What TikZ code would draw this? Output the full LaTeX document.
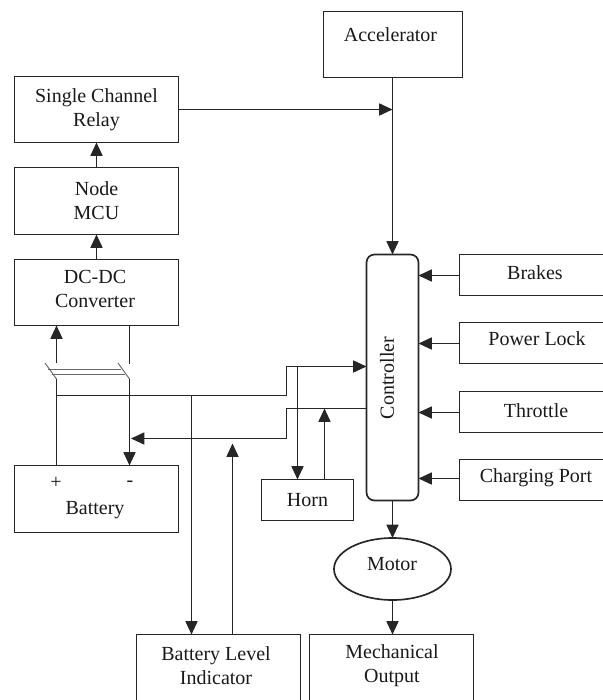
\documentclass[tikz,border=0pt]{standalone}
\usepackage{fontspec}
\setmainfont{Liberation Serif}
\usetikzlibrary{arrows.meta,shapes.geometric}
\tikzset{
  x=0.75pt,y=-0.75pt,
  every node/.style={font=\fontsize{15pt}{18pt}\selectfont,align=center,text=black!90},
  blockbox/.style={draw=black!85,line width=1.25pt,inner sep=0pt,outer sep=0pt,anchor=north west},
  wire/.style={draw=black!85,line width=1.25pt},
  arr/.style={wire,-{Triangle[length=10pt,width=9pt]}},
  sw/.style={draw=black!60,line width=0.7pt}
}
\begin{document}
\begin{tikzpicture}
\useasboundingbox (0,0) rectangle (603,700);
\clip (0,0) rectangle (603,700);
\node[blockbox,minimum width=104.25pt,minimum height=49.5pt] (acc) at (323.5,11.5) {};
\node (acct) at (390.5,35) {Accelerator};
\node[blockbox,minimum width=123pt,minimum height=49.5pt] (relay) at (14.5,76.5) {Single Channel\\Relay};
\node[blockbox,minimum width=123pt,minimum height=50.25pt] (mcu) at (14.5,167.5) {Node\\MCU};
\node[blockbox,minimum width=123pt,minimum height=49.5pt] (dc) at (14.5,259.5) {};
\node (dct) at (95,289) {DC-DC\\Converter};
\node[blockbox,minimum width=123pt,minimum height=50.25pt] (bat) at (14.5,465.5) {};
\node (plus) at (56,483) {+};
\node (minus) at (130,484) {-};
\node (batt) at (95,510) {Battery};
\node[blockbox,minimum width=69pt,minimum height=30.75pt] (horn) at (261.5,479.5) {Horn};
\node[blockbox,minimum width=39pt,minimum height=184.5pt,rounded corners=6pt] (ctrl) at (366.5,254.5) {};
\node[rotate=90] (ctrlt) at (387,378) {Controller};
\node[blockbox,minimum width=120pt,minimum height=30.75pt] (brakes) at (459.5,254.5) {};
\node (brakest) at (535,273) {Brakes};
\node[blockbox,minimum width=120pt,minimum height=30.75pt] (lock) at (459.5,322.5) {};
\node (lockt) at (537,339) {Power Lock};
\node[blockbox,minimum width=120pt,minimum height=30.75pt] (thr) at (459.5,391.5) {};
\node (thrt) at (536,411) {Throttle};
\node[blockbox,minimum width=120pt,minimum height=30.75pt] (chg) at (459.5,459.5) {};
\node (chgt) at (536,478) {Charging Port};
\node[draw=black!85,line width=1.25pt,inner sep=0pt,outer sep=0pt,ellipse,minimum width=87.75pt,minimum height=46.5pt] (motor) at (392.5,569) {};
\node (motort) at (392,564) {Motor};
\node[blockbox,minimum width=123pt,minimum height=60pt] (batl) at (136.5,634.5) {};
\node (batlt) at (216,666) {Battery Level\\Indicator};
\node[blockbox,minimum width=123pt,minimum height=60pt] (mech) at (309.5,634.5) {};
\node (mecht) at (392,666) {Mechanical\\Output};
% connectors
\coordinate (a1) at (392.5,77.5);
\coordinate (a3) at (392.5,109.5);
\draw[arr] (a1) -- (ctrl.north);
\draw[arr] (relay.east) -- (a3);
\draw[arr] (mcu.north) -- (relay.south);
\draw[arr] (dc.north) -- (mcu.south);
\coordinate (b1) at (459.5,275.5);
\coordinate (b2) at (459.5,343.5);
\coordinate (b3) at (459.5,412.5);
\coordinate (b4) at (459.5,478.5);
\draw[arr] (b1) -- (ctrl.east |- b1);
\draw[arr] (b2) -- (ctrl.east |- b2);
\draw[arr] (b3) -- (ctrl.east |- b3);
\draw[arr] (b4) -- (ctrl.east |- b4);
\draw[arr] (ctrl.south) -- (motor.north);
\draw[arr] (motor.south) -- (392.5,634.5);
% switch
\coordinate (sL) at (56.5,379);
\coordinate (sR) at (129.5,379);
\coordinate (pL) at (56.5,363);
\coordinate (pR) at (129.5,364);
\draw[arr] (pL) -- (56.5,325.5);
\draw[wire] (pR) -- (129.5,325.5);
\draw[wire] (56.5,465.5) -- (sL);
\draw[arr] (sR) -- (129.5,465.5);
\draw[sw] (45,363) -- (sL);
\draw[sw] (118,363) -- (sR);
\draw[sw] (48,369) -- (121,369);
\draw[sw] (52,374) -- (125,374);
% main lines
\coordinate (ci) at (366.5,366.5);
\draw[arr] (56.5,395.5) -- (286.5,395.5) -- (286.5,366.5) -- (ci);
\draw[arr] (366.5,408.5) -- (286.5,408.5) -- (286.5,438.5) -- (131,438.5);
\draw[arr] (191.5,395.5) -- (191.5,634.5);
\draw[arr] (232.5,634.5) -- (232.5,443.5);
\draw[arr] (297.5,366.5) -- (297.5,479.5);
\draw[arr] (324.5,479.5) -- (324.5,408.5);
\end{tikzpicture}
\end{document}
